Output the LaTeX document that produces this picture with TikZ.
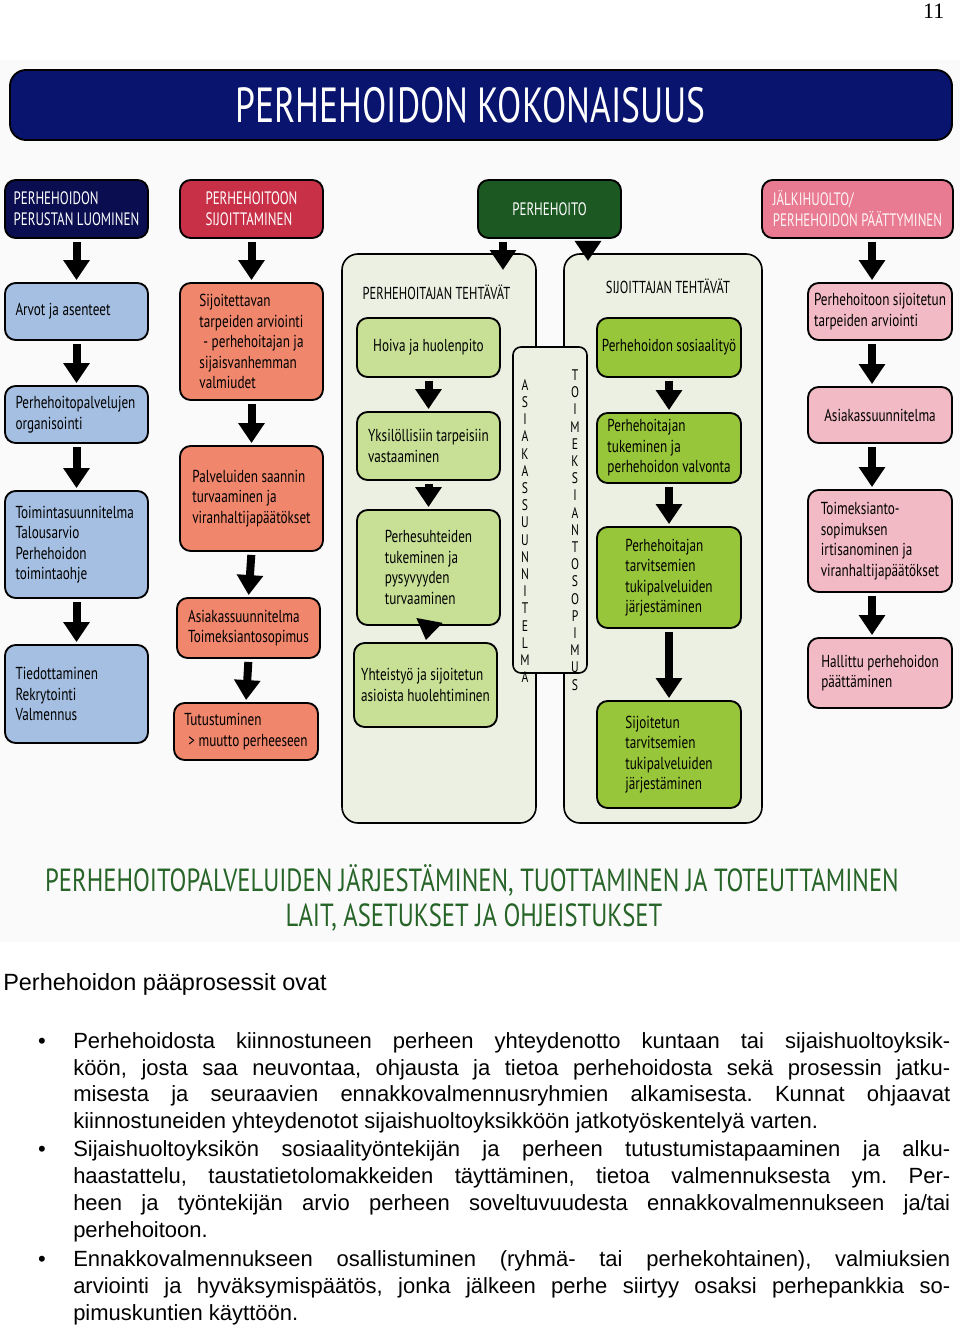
\documentclass[tikz,border=0pt]{standalone}
\usepackage{fontspec}
\setmainfont{Liberation Sans}
\newfontfamily\diagfont[FakeStretch=0.76]{PT Sans}
\newfontfamily\headfont[FakeStretch=0.72]{PT Sans}
\newfontfamily\lawfont[FakeStretch=0.77]{PT Sans}
\newfontfamily\pagefont{Liberation Serif}
\usetikzlibrary{arrows.meta,positioning}
\frenchspacing

\newdimen\px
\px=0.75pt

\definecolor{navybar}{RGB}{8,20,110}
\definecolor{navyhead}{RGB}{10,14,80}
\definecolor{redhead}{RGB}{200,48,72}
\definecolor{greenhead}{RGB}{28,88,34}
\definecolor{pinkhead}{RGB}{232,122,146}
\definecolor{bluebox}{RGB}{165,191,226}
\definecolor{salmonbox}{RGB}{240,134,108}
\definecolor{palegreen}{RGB}{200,224,150}
\definecolor{limegreen}{RGB}{152,198,58}
\definecolor{pinkbox}{RGB}{242,186,196}
\definecolor{panelbg}{RGB}{236,240,226}
\definecolor{lawgreen}{RGB}{38,100,40}
\definecolor{figbg}{RGB}{250,250,250}

\tikzset{
  bx/.style n args={2}{minimum width=#1\px, minimum height=#2\px},
  box/.style={
    draw=black,
    line width=1.4pt,
    rounded corners=8pt,
    inner sep=0pt,
    align=flush left,
    font=\diagfont\fontsize{13}{15.4}\selectfont
  },
  head/.style={box, text=white, font=\headfont\fontsize{13.5}{15.8}\selectfont},
  panel/.style={box, fill=panelbg, line width=1.2pt, rounded corners=12pt},
  flow/.style={
    line width=6pt,
    -{Triangle[length=15pt,width=19pt]},
    shorten <=2.25pt,
    shorten >=1.5pt
  },
  letters/.style={align=center, inner sep=0pt,
    font=\diagfont\fontsize{11.5}{12.9}\selectfont},
  bodytext/.style={inner sep=0pt, text width=657.75pt, align=justify,
    font=\fontsize{16.5}{20.2}\selectfont}
}

\begin{document}
\begin{tikzpicture}[x=0.75pt, y=-0.75pt]
  \useasboundingbox (0,0) rectangle (960,1330);

  % page number and figure background
  \node[font=\pagefont\fontsize{16.5}{20}\selectfont, anchor=base east] (pageno) at (949,19) {11};
  \fill[figbg] (0,60) rectangle (960,942);

  % Title
  \node[box, bx={942}{70}, fill=navybar, rounded corners=12pt] (title) at (481,105) {};
  \node[text=white, font=\headfont\fontsize{37}{40}\selectfont] (titletext) at (470.5,105) {PERHEHOIDON KOKONAISUUS};

  % Headers
  \node[head, bx={143}{58}, fill=navyhead] (hA) at (76.5,209) {PERHEHOIDON\\PERUSTAN LUOMINEN};
  \node[head, bx={143}{58}, fill=redhead] (hB) at (251.5,209) {PERHEHOITOON\\SIJOITTAMINEN};
  \node[head, bx={143}{58}, fill=greenhead] (hC) at (549.5,209) {PERHEHOITO};
  \node[head, bx={191}{58}, fill=pinkhead, text=white!88!pink] (hD) at (857.5,209) {JÄLKIHUOLTO/\\PERHEHOIDON PÄÄTTYMINEN};

  % Column A
  \node[box, bx={143}{57}, fill=bluebox, text width=122\px] (a1) at (76.5,311.5) {Arvot ja asenteet};
  \node[box, bx={143}{57}, fill=bluebox, text width=122\px] (a2) at (76.5,414.5) {Perhehoitopalvelujen\\organisointi};
  \node[box, bx={143}{107}, fill=bluebox, text width=122\px] (a3) at (76.5,544.5) {Toimintasuunnitelma\\Talousarvio\\Perhehoidon\\toimintaohje};
  \node[box, bx={143}{98}, fill=bluebox, text width=122\px] (a4) at (76.5,694) {Tiedottaminen\\Rekrytointi\\Valmennus};

  % Column B
  \node[box, bx={143}{117}, fill=salmonbox] (b1) at (251.5,341.5) {Sijoitettavan\\tarpeiden arviointi\\\hspace{3pt}- perhehoitajan ja\\sijaisvanhemman\\valmiudet};
  \node[box, bx={143}{105}, fill=salmonbox] (b2) at (251.5,498.5) {Palveluiden saannin\\turvaaminen ja\\viranhaltijapäätökset};
  \node[box, bx={143}{60}, fill=salmonbox] (b3) at (248.5,628) {Asiakassuunnitelma\\Toimeksiantosopimus};
  \node[box, bx={144}{57}, fill=salmonbox] (b4) at (246,731.5) {Tutustuminen\\\hspace{3pt}> muutto perheeseen};

  % Panels
  \node[panel, bx={194}{569}] (pC) at (439,538.5) {};
  \node[panel, bx={198}{569}] (pD) at (663,538.5) {};
  \node[font=\headfont\fontsize{13}{15}\selectfont] (tC) at (436.5,292) {PERHEHOITAJAN TEHTÄVÄT};
  \node[font=\headfont\fontsize{13}{15}\selectfont] (tD) at (668,286) {SIJOITTAJAN TEHTÄVÄT};

  % Column C
  \node[box, bx={143}{59}, fill=palegreen] (c1) at (428.5,347.5) {Hoiva ja huolenpito};
  \node[box, bx={143}{68}, fill=palegreen] (c2) at (428.5,446) {Yksilöllisiin tarpeisiin\\vastaaminen};
  \node[box, bx={143}{115}, fill=palegreen] (c3) at (428.5,567.5) {Perhesuhteiden\\tukeminen ja\\pysyvyyden\\turvaaminen};
  \node[box, bx={143}{84}, fill=palegreen] (c4) at (425.5,685) {Yhteistyö ja sijoitetun\\asioista huolehtiminen};

  % Middle box
  \node[box, bx={74}{326}, fill=panelbg, line width=1.2pt, rounded corners=6pt] (mid) at (550,510) {};
  \node[letters] (asiak) at (525,531) {A\\S\\I\\A\\K\\A\\S\\S\\U\\U\\N\\N\\I\\T\\E\\L\\M\\A};
  \node[letters] (toimek) at (575,530) {T\\O\\I\\M\\E\\K\\S\\I\\A\\N\\T\\O\\S\\O\\P\\I\\M\\U\\S};

  % Column D
  \node[box, bx={144}{59}, fill=limegreen] (d1) at (669,347.5) {Perhehoidon sosiaalityö};
  \node[box, bx={144}{70}, fill=limegreen] (d2) at (669,448) {Perhehoitajan\\tukeminen ja\\perhehoidon valvonta};
  \node[box, bx={144}{101}, fill=limegreen] (d3) at (669,577.5) {Perhehoitajan\\tarvitsemien\\tukipalveluiden\\järjestäminen};
  \node[box, bx={144}{107}, fill=limegreen] (d4) at (669,754.5) {Sijoitetun\\tarvitsemien\\tukipalveluiden\\järjestäminen};

  % Column E
  \node[box, bx={144}{57}, fill=pinkbox] (e1) at (880,311.5) {Perhehoitoon sijoitetun\\tarpeiden arviointi};
  \node[box, bx={144}{56}, fill=pinkbox] (e2) at (880,415) {Asiakassuunnitelma};
  \node[box, bx={144}{102}, fill=pinkbox] (e3) at (880,541) {Toimeksianto-\\sopimuksen\\irtisanominen ja\\viranhaltijapäätökset};
  \node[box, bx={144}{70}, fill=pinkbox] (e4) at (880,673) {Hallittu perhehoidon\\päättäminen};

  % Arrows
  \foreach \from/\to in {hA/a1, a1/a2, a2/a3, a3/a4,
                         hB/b1, b1/b2, b2/b3, b3/b4,
                         c1/c2, c2/c3, c3/c4,
                         d1/d2, d2/d3, d3/d4}
    \draw[flow] (\from.south) -- (\to.north);
  \coordinate (xE) at (872,0);
  \foreach \from/\to in {hD/e1, e1/e2, e2/e3, e3/e4}
    \draw[flow] (\from.south -| xE) -- (\to.north -| xE);
  \coordinate (tipC) at (503,272);
  \coordinate (tipD) at (588,263);
  \draw[flow] (hC.south -| tipC) -- (tipC);
  \draw[flow] (hC.south -| tipD) -- (tipD);

  % Laws
  \node[text=lawgreen, font=\lawfont\fontsize{24}{28}\selectfont] (law1) at (472,880) {PERHEHOITOPALVELUIDEN JÄRJESTÄMINEN, TUOTTAMINEN JA TOTEUTTAMINEN};
  \node[text=lawgreen, font=\lawfont\fontsize{24}{28}\selectfont] (law2) at (474,917) {LAIT, ASETUKSET JA OHJEISTUKSET};

  % Text below
  \node[font=\fontsize{17.6}{21}\selectfont, inner sep=0pt, anchor=base west] (intro) at (3,990) {Perhehoidon pääprosessit ovat};

  \node[bodytext, anchor=north west] (p1) at (73,1029) {\strut Perhehoidosta kiinnostuneen perheen yhteydenotto kuntaan tai sijaishuoltoyksik-\linebreak köön, josta saa neuvontaa, ohjausta ja tietoa perhehoidosta sekä prosessin jatku-\linebreak misesta ja seuraavien ennakkovalmennusryhmien alkamisesta. Kunnat ohjaavat\linebreak kiinnostuneiden yhteydenotot sijaishuoltoyksikköön jatkotyöskentelyä varten.\strut};
  \node[bodytext, anchor=north west] (p2) at (p1.south west) {\strut Sijaishuoltoyksikön sosiaalityöntekijän ja perheen tutustumistapaaminen ja alku-\linebreak haastattelu, taustatietolomakkeiden täyttäminen, tietoa valmennuksesta ym. Per-\linebreak heen ja työntekijän arvio perheen soveltuvuudesta ennakkovalmennukseen ja/tai\linebreak perhehoitoon.\strut};
  \node[bodytext, anchor=north west] (p3) at ([yshift=-1.5pt]p2.south west) {\strut Ennakkovalmennukseen osallistuminen (ryhmä- tai perhekohtainen), valmiuksien\linebreak arviointi ja hyväksymispäätös, jonka jälkeen perhe siirtyy osaksi perhepankkia so-\linebreak pimuskuntien käyttöön.\strut};

  \foreach \p in {p1,p2,p3}
    \node[inner sep=0pt, anchor=north, font=\fontsize{16.5}{20.2}\selectfont] (dot\p) at (42,0 |- \p.north) {\strut •};
\end{tikzpicture}
\end{document}
